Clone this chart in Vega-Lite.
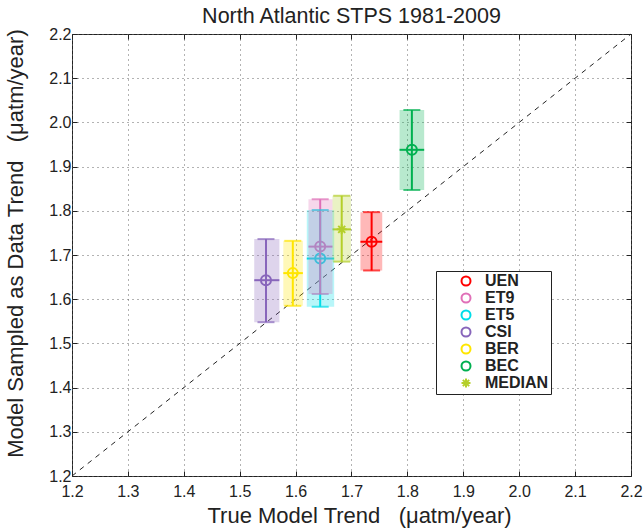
{
  "$schema": "https://vega.github.io/schema/vega-lite/v6.json",
  "width": 559,
  "height": 442,
  "autosize": {"type": "none"},
  "padding": {"left": 72, "top": 34, "right": 13, "bottom": 55},
  "title": {"text": "North Atlantic STPS 1981-2009", "fontSize": 21.5, "fontWeight": "normal", "color": "#222", "offset": -1},
  "config": {
    "font": "Liberation Sans",
    "view": {"stroke": "#222", "strokeWidth": 1}
  },
  "datasets": {
    "models": [
      {"model": "UEN", "x": 1.736, "xlo": 1.716, "xhi": 1.755, "y": 1.730, "ylo": 1.665, "yhi": 1.797},
      {"model": "ET5", "x": 1.644, "xlo": 1.620, "xhi": 1.669, "y": 1.692, "ylo": 1.583, "yhi": 1.802},
      {"model": "ET9", "x": 1.644, "xlo": 1.623, "xhi": 1.666, "y": 1.719, "ylo": 1.612, "yhi": 1.826},
      {"model": "CSI", "x": 1.547, "xlo": 1.526, "xhi": 1.571, "y": 1.643, "ylo": 1.548, "yhi": 1.736},
      {"model": "BER", "x": 1.595, "xlo": 1.578, "xhi": 1.613, "y": 1.659, "ylo": 1.585, "yhi": 1.732},
      {"model": "BEC", "x": 1.808, "xlo": 1.786, "xhi": 1.830, "y": 1.938, "ylo": 1.847, "yhi": 2.028},
      {"model": "MEDIAN", "x": 1.6825, "xlo": 1.666, "xhi": 1.699, "y": 1.758, "ylo": 1.685, "yhi": 1.834}
    ],
    "diag": [
      {"x": 1.2, "y": 1.2},
      {"x": 2.2, "y": 2.2}
    ]
  },
  "resolve": {"axis": {"x": "independent", "y": "independent"}},
  "layer": [
    {
      "data": {"name": "diag"},
      "mark": {"type": "line", "color": "#222", "strokeWidth": 1, "strokeDash": [5, 5]},
      "encoding": {
        "x": {"field": "x", "type": "quantitative",
          "scale": {"domain": [1.2, 2.2], "nice": false, "zero": false},
          "axis": {"orient": "bottom", "values": [1.2, 1.3, 1.4, 1.5, 1.6, 1.7, 1.8, 1.9, 2.0, 2.1, 2.2], "format": ".1f",
            "title": "True Model Trend\u00a0\u00a0\u00a0(μatm/year)", "titleFontSize": 22, "titleFontWeight": "normal", "titleColor": "#222", "titlePadding": 6, "titleX": 287,
            "labelFontSize": 16, "labelColor": "#222", "labelPadding": 12, "labelFlush": false, "labelOverlap": false,
            "tickSize": -5, "tickColor": "#222", "domain": false,
            "grid": true, "gridDash": [1, 4], "gridColor": "#666", "gridOpacity": 1}},
        "y": {"field": "y", "type": "quantitative",
          "scale": {"domain": [1.2, 2.2], "nice": false, "zero": false},
          "axis": {"orient": "left", "values": [1.2, 1.3, 1.4, 1.5, 1.6, 1.7, 1.8, 1.9, 2.0, 2.1, 2.2], "format": ".1f",
            "title": "Model Sampled as Data Trend\u00a0\u00a0\u00a0(μatm/year)", "titleFontSize": 22, "titleFontWeight": "normal", "titleColor": "#222", "titlePadding": 21, "titleY": 209,
            "labelFontSize": 16, "labelColor": "#222", "labelPadding": 6, "labelFlush": false, "labelOverlap": false,
            "tickSize": -5, "tickColor": "#222", "domain": false,
            "grid": true, "gridDash": [1, 4], "gridColor": "#666", "gridOpacity": 1}}
      }
    },
    {
      "data": {"name": "models"},
      "mark": {"type": "point", "filled": false, "strokeWidth": 2, "size": 100, "opacity": 1},
      "encoding": {
        "x": {"field": "x", "type": "quantitative",
          "axis": {"orient": "top", "values": [1.2, 1.3, 1.4, 1.5, 1.6, 1.7, 1.8, 1.9, 2.0, 2.1, 2.2], "labels": false, "title": null, "grid": false, "domain": false, "tickSize": -5, "tickColor": "#222"}},
        "y": {"field": "y", "type": "quantitative",
          "axis": {"orient": "right", "values": [1.2, 1.3, 1.4, 1.5, 1.6, 1.7, 1.8, 1.9, 2.0, 2.1, 2.2], "labels": false, "title": null, "grid": false, "domain": false, "tickSize": -5, "tickColor": "#222"}},
        "stroke": {"field": "model", "type": "nominal",
          "scale": {"domain": ["UEN", "ET9", "ET5", "CSI", "BER", "BEC", "MEDIAN"], "range": ["#ff0000", "#e070b8", "#00dde8", "#8866bb", "#ffe600", "#00b050", "#b5cf2a"]},
          "legend": {"title": null, "orient": "none", "legendX": 364, "legendY": 237, "padding": 2, "symbolOffset": 20, "labelOffset": 11,
            "labelFontSize": 16, "labelFontWeight": "bold", "labelColor": "#222", "rowPadding": -2.5, "symbolSize": 81, "symbolStrokeWidth": 2,
            "strokeColor": "#222", "fillColor": "white", "labelExpr": "datum.label + '\u2003'",
            "encode": {"legend": {"strokeWidth": {"value": 1.5}}}}},
        "shape": {"field": "model", "type": "nominal",
          "scale": {"domain": ["UEN", "ET9", "ET5", "CSI", "BER", "BEC", "MEDIAN"], "range": ["circle", "circle", "circle", "circle", "circle", "circle", "M0,-1L0,1M-1,0L1,0M-0.7,-0.7L0.7,0.7M-0.7,0.7L0.7,-0.7"]},
          "legend": {"title": null, "orient": "none", "legendX": 364, "legendY": 237, "padding": 2, "symbolOffset": 20, "labelOffset": 11,
            "labelFontSize": 16, "labelFontWeight": "bold", "labelColor": "#222", "rowPadding": -2.5, "symbolSize": 81, "symbolStrokeWidth": 2,
            "strokeColor": "#222", "fillColor": "white", "labelExpr": "datum.label + '\u2003'",
            "encode": {"legend": {"strokeWidth": {"value": 1.5}}}}}
      }
    },
    {
      "data": {"name": "models"},
      "mark": {"type": "rule", "strokeWidth": 2},
      "encoding": {
        "x": {"field": "x", "type": "quantitative", "axis": null},
        "y": {"field": "ylo", "type": "quantitative", "axis": null},
        "y2": {"field": "yhi"},
        "stroke": {"field": "model", "type": "nominal"}
      }
    },
    {
      "data": {"name": "models"},
      "mark": {"type": "rule", "strokeWidth": 2},
      "encoding": {
        "x": {"field": "xlo", "type": "quantitative", "axis": null},
        "x2": {"field": "xhi"},
        "y": {"field": "y", "type": "quantitative", "axis": null},
        "stroke": {"field": "model", "type": "nominal"}
      }
    },
    {
      "data": {"name": "models"},
      "mark": {"type": "tick", "orient": "horizontal", "size": 17, "thickness": 2},
      "encoding": {
        "x": {"field": "x", "type": "quantitative", "axis": null},
        "y": {"field": "ylo", "type": "quantitative", "axis": null},
        "fill": {"field": "model", "type": "nominal", "legend": null,
          "scale": {"domain": ["MEDIAN", "BEC", "BER", "CSI", "ET5", "ET9", "UEN"], "range": ["#b5cf2a", "#00b050", "#ffe600", "#8866bb", "#00dde8", "#e070b8", "#ff0000"]}}
      }
    },
    {
      "data": {"name": "models"},
      "mark": {"type": "tick", "orient": "horizontal", "size": 17, "thickness": 2},
      "encoding": {
        "x": {"field": "x", "type": "quantitative", "axis": null},
        "y": {"field": "yhi", "type": "quantitative", "axis": null},
        "fill": {"field": "model", "type": "nominal", "legend": null}
      }
    },
    {
      "data": {"name": "models"},
      "mark": {"type": "rect", "fillOpacity": 0.28},
      "encoding": {
        "x": {"field": "xlo", "type": "quantitative", "axis": null},
        "x2": {"field": "xhi"},
        "y": {"field": "ylo", "type": "quantitative", "axis": null},
        "y2": {"field": "yhi"},
        "fill": {"field": "model", "type": "nominal", "legend": null}
      }
    }
  ]
}
